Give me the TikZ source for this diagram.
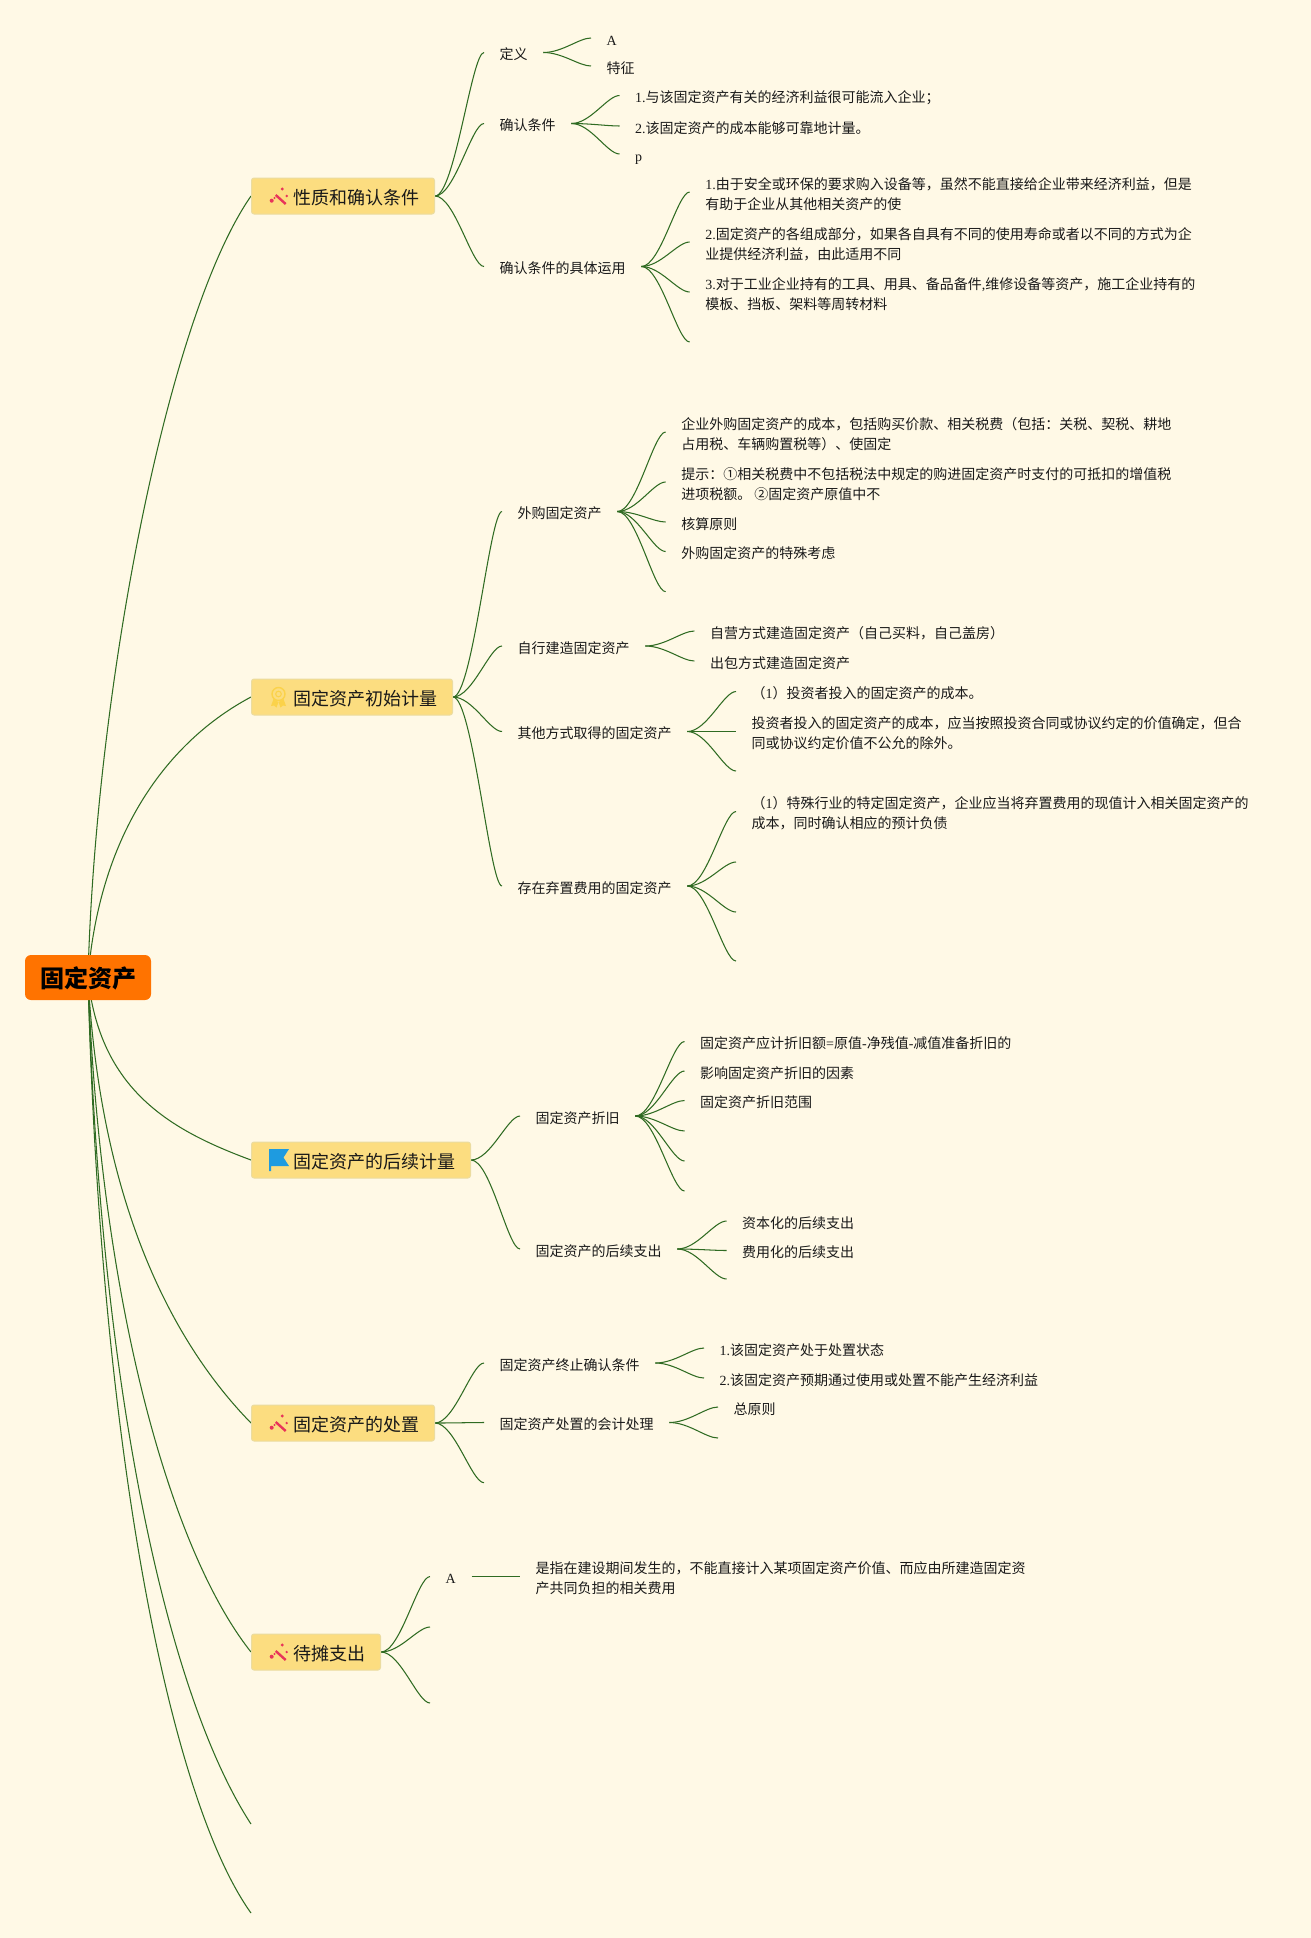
\documentclass[tikz,border=0pt]{standalone}
\usepackage{fontspec}
\setmainfont{Noto Sans CJK SC}
\newfontfamily\latf{Liberation Serif}
\usetikzlibrary{calc}
\pgfdeclarelayer{edges}
\pgfsetlayers{edges,main}
\definecolor{bgc}{HTML}{FFF9E6}
\definecolor{boxc}{HTML}{FCDD80}
\definecolor{boxb}{HTML}{EBDCA0}
\definecolor{rootc}{HTML}{FF7300}
\definecolor{linec}{HTML}{2F6B22}
\definecolor{wandc}{HTML}{E8345A}
\definecolor{medalc}{HTML}{FBD24A}
\definecolor{flagc}{HTML}{1E9BE0}
\newcommand\ltn[1]{{\latf #1}}
\newcommand\tst{\rule[-4.2pt]{0pt}{20pt}}
\newcommand\bst{\rule[-4pt]{0pt}{24.5pt}}
\newcommand\rst{\rule[-4.8pt]{0pt}{29.8pt}}
\newcommand\nl{\tst\\\tst}
\newcommand\ecurve[2]{\draw[conn] let \p1=(#1),\p2=(#2) in (\p1) .. controls ({\x1+0.4*(\x2-\x1)},\y1) and ({\x1+0.75*(\x2-\x1)},\y2) .. (\p2);}
\newcommand\kb[2]{\ecurve{#1.east}{[yshift=1.5pt]#2.west}}
\newcommand\kbf[2]{\ecurve{#1.east}{#2}}
\newcommand\kk[2]{\ecurve{[yshift=1.5pt]#1.east}{[yshift=1.5pt]#2.west}}
\newcommand\kf[2]{\ecurve{[yshift=1.5pt]#1.east}{#2}}
\newcommand\wand[1]{\begin{scope}[shift={(#1)}]
 \draw[wandc,line width=2.4pt] (24.7,-1) -- (34.7,8);
 \fill[wandc] (31.3,-7) circle (1.6pt) (20.7,4.7) circle (2pt) (35.7,0) circle (1.3pt) (23.5,2) circle (1.2pt);
 \end{scope}}
\tikzset{
 x=1pt,y=-1pt,
 conn/.style={draw=linec,line width=1.05pt},
 leaf/.style={anchor=west,inner xsep=15.5pt,inner ysep=0pt,align=left,text=black!90,
   font=\fontsize{14}{20}\selectfont,execute at begin node=\tst},
 branch/.style={anchor=west,draw=boxb,fill=boxc,line width=1pt,rounded corners=2.5pt,inner xsep=14pt,inner ysep=0pt,
   minimum height=36pt,text=black!90,font=\fontsize{18}{22}\selectfont,execute at begin node=\bst},
 rootnode/.style={anchor=center,fill=rootc,rounded corners=6pt,minimum width=126pt,minimum height=45pt,inner sep=0pt,
   font=\fontsize{24}{28}\selectfont\bfseries,text=black,execute at begin node=\rst},
}
\begin{document}
\begin{tikzpicture}
\useasboundingbox (0,0) rectangle (1311,1938);
\node[rootnode] (root) at (88,977.5) {固定资产};
\node[branch] (b1) at (251,196) {\hspace*{28pt}性质和确认条件\hspace*{1pt}};
\node[branch] (b2) at (251,697) {\hspace*{28pt}固定资产初始计量\hspace*{1pt}};
\node[branch] (b3) at (251,1160) {\hspace*{28pt}固定资产的后续计量\hspace*{1pt}};
\node[branch] (b4) at (251,1423) {\hspace*{28pt}固定资产的处置\hspace*{1pt}};
\node[branch] (b5) at (251,1652) {\hspace*{28pt}待摊支出\hspace*{1pt}};
\coordinate (r6) at (251,1824);
\coordinate (r7) at (251,1913);
% icons
\wand{b1.west}
\wand{b4.west}
\wand{b5.west}
\begin{scope}[shift={(b2.west)}]
 \draw[medalc,line width=1.4pt] (27.5,-3) circle (6.5pt);
 \draw[medalc,line width=1.1pt] (27.5,-3) circle (2.8pt);
 \fill[medalc] (22.5,2) -- (20,9) -- (23,8.5) -- (25.5,10.5) -- (27.5,5) -- cycle;
 \fill[medalc] (32.5,2) -- (35,9) -- (32,8.5) -- (29.5,10.5) -- (27.5,5) -- cycle;
\end{scope}
\begin{scope}[shift={(b3.west)}]
 \fill[flagc] (18,-11) -- (38,-11) -- (32.5,-2.5) -- (38,6) -- (20,6) -- (20,11) -- (18,11) -- cycle;
\end{scope}
% level 2 and 3: branch 1
\node[leaf] (t11) at (484,54) {定义};
\node[leaf] (t111) at (591,39.5) {\ltn{A}};
\node[leaf] (t112) at (591,67.5) {特征};
\node[leaf] (t12) at (484,125) {确认条件};
\node[leaf] (t121) at (619.5,97) {\ltn{1.}与该固定资产有关的经济利益很可能流入企业；};
\node[leaf] (t122) at (619.5,127.5) {\ltn{2.}该固定资产的成本能够可靠地计量。};
\node[leaf] (t123) at (619.5,155.5) {\ltn{p}};
\node[leaf] (t13) at (484,268) {确认条件的具体运用};
\node[leaf] (t131) at (689.6,193.5) {\ltn{1.}由于安全或环保的要求购入设备等，虽然不能直接给企业带来经济利益，但是\nl 有助于企业从其他相关资产的使};
\node[leaf] (t132) at (689.6,243.5) {\ltn{2.}固定资产的各组成部分，如果各自具有不同的使用寿命或者以不同的方式为企\nl 业提供经济利益，由此适用不同};
\node[leaf] (t133) at (689.6,293.5) {\ltn{3.}对于工业企业持有的工具、用具、备品备件\ltn{,}维修设备等资产，施工企业持有的\nl 模板、挡板、架料等周转材料};
\coordinate (t134) at (689.6,342);
% branch 2
\node[leaf] (t21) at (502,513) {外购固定资产};
\node[leaf] (t211) at (665.6,433.5) {企业外购固定资产的成本，包括购买价款、相关税费（包括：关税、契税、耕地\nl 占用税、车辆购置税等）、使固定};
\node[leaf] (t212) at (665.6,483.5) {提示：①相关税费中不包括税法中规定的购进固定资产时支付的可抵扣的增值税\nl 进项税额。\ ②固定资产原值中不};
\node[leaf] (t213) at (665.6,523.5) {核算原则};
\node[leaf] (t214) at (665.6,553) {外购固定资产的特殊考虑};
\coordinate (t215) at (665.6,591.7);
\node[leaf] (t22) at (502,647.5) {自行建造固定资产};
\node[leaf] (t221) at (694.4,632.5) {自营方式建造固定资产（自己买料，自己盖房）};
\node[leaf] (t222) at (694.4,662.5) {出包方式建造固定资产};
\node[leaf] (t23) at (502,733) {其他方式取得的固定资产};
\node[leaf] (t231) at (736,693) {（\ltn{1}）投资者投入的固定资产的成本。};
\node[leaf] (t232) at (736,733) {投资者投入的固定资产的成本，应当按照投资合同或协议约定的价值确定，但合\nl 同或协议约定价值不公允的除外。};
\coordinate (t233) at (736,771);
\node[leaf] (t24) at (502,887.5) {存在弃置费用的固定资产};
\node[leaf] (t241) at (736,813) {（\ltn{1}）特殊行业的特定固定资产，企业应当将弃置费用的现值计入相关固定资产的\nl 成本，同时确认相应的预计负债};
\coordinate (t242) at (736,862);
\coordinate (t243) at (736,912);
\coordinate (t244) at (736,961);
% branch 3
\node[leaf] (t31) at (520,1117.5) {固定资产折旧};
\node[leaf] (t311) at (684.5,1043) {固定资产应计折旧额\ltn{=}原值\ltn{-}净残值\ltn{-}减值准备折旧的};
\node[leaf] (t312) at (684.5,1072.5) {影响固定资产折旧的因素};
\node[leaf] (t313) at (684.5,1102) {固定资产折旧范围};
\coordinate (t314) at (684.5,1131);
\coordinate (t315) at (684.5,1161);
\coordinate (t316) at (684.5,1191);
\node[leaf] (t32) at (520,1250.5) {固定资产的后续支出};
\node[leaf] (t321) at (726.5,1222.5) {资本化的后续支出};
\node[leaf] (t322) at (726.5,1252) {费用化的后续支出};
\coordinate (t323) at (726.5,1279);
% branch 4
\node[leaf] (t41) at (484,1364.5) {固定资产终止确认条件};
\node[leaf] (t411) at (704,1349.5) {\ltn{1.}该固定资产处于处置状态};
\node[leaf] (t412) at (704,1379.5) {\ltn{2.}该固定资产预期通过使用或处置不能产生经济利益};
\node[leaf] (t42) at (484,1424) {固定资产处置的会计处理};
\node[leaf] (t421) at (718,1408.5) {总原则};
\coordinate (t422) at (718,1438);
\coordinate (t43) at (484,1482.7);
% branch 5
\node[leaf] (t51) at (430,1578) {\ltn{A}};
\node[leaf] (t511) at (520,1578) {是指在建设期间发生的，不能直接计入某项固定资产价值、而应由所建造固定资\nl 产共同负担的相关费用};
\coordinate (t52) at (430,1627);
\coordinate (t53) at (430,1703);
\begin{pgfonlayer}{edges}
\fill[bgc] (0,0) rectangle (1311,1938);
\draw[conn] (root.center) .. controls (95,700) and (165,320) .. (b1.west);
\draw[conn] (root.center) .. controls (100,830) and (170,740) .. (b2.west);
\draw[conn] (root.center) .. controls (100,1090) and (170,1130) .. (b3.west);
\draw[conn] (root.center) .. controls (100,1200) and (170,1340) .. (b4.west);
\draw[conn] (root.center) .. controls (100,1300) and (170,1550) .. (b5.west);
\draw[conn] (root.center) .. controls (100,1400) and (170,1700) .. (r6);
\draw[conn] (root.center) .. controls (100,1450) and (170,1800) .. (r7);
\kb{b1}{t11}\kb{b1}{t12}\kb{b1}{t13}
\kk{t11}{t111}\kk{t11}{t112}
\kk{t12}{t121}\kk{t12}{t122}\kk{t12}{t123}
\kk{t13}{t131}\kk{t13}{t132}\kk{t13}{t133}\kf{t13}{t134}
\kb{b2}{t21}\kb{b2}{t22}\kb{b2}{t23}\kb{b2}{t24}
\kk{t21}{t211}\kk{t21}{t212}\kk{t21}{t213}\kk{t21}{t214}\kf{t21}{t215}
\kk{t22}{t221}\kk{t22}{t222}
\kk{t23}{t231}\kk{t23}{t232}\kf{t23}{t233}
\kk{t24}{t241}\kf{t24}{t242}\kf{t24}{t243}\kf{t24}{t244}
\kb{b3}{t31}\kb{b3}{t32}
\kk{t31}{t311}\kk{t31}{t312}\kk{t31}{t313}\kf{t31}{t314}\kf{t31}{t315}\kf{t31}{t316}
\kk{t32}{t321}\kk{t32}{t322}\kf{t32}{t323}
\kb{b4}{t41}\kb{b4}{t42}\kbf{b4}{t43}
\kk{t41}{t411}\kk{t41}{t412}
\kk{t42}{t421}\kf{t42}{t422}
\kb{b5}{t51}\kbf{b5}{t52}\kbf{b5}{t53}
\kk{t51}{t511}
\end{pgfonlayer}
\end{tikzpicture}
\end{document}
